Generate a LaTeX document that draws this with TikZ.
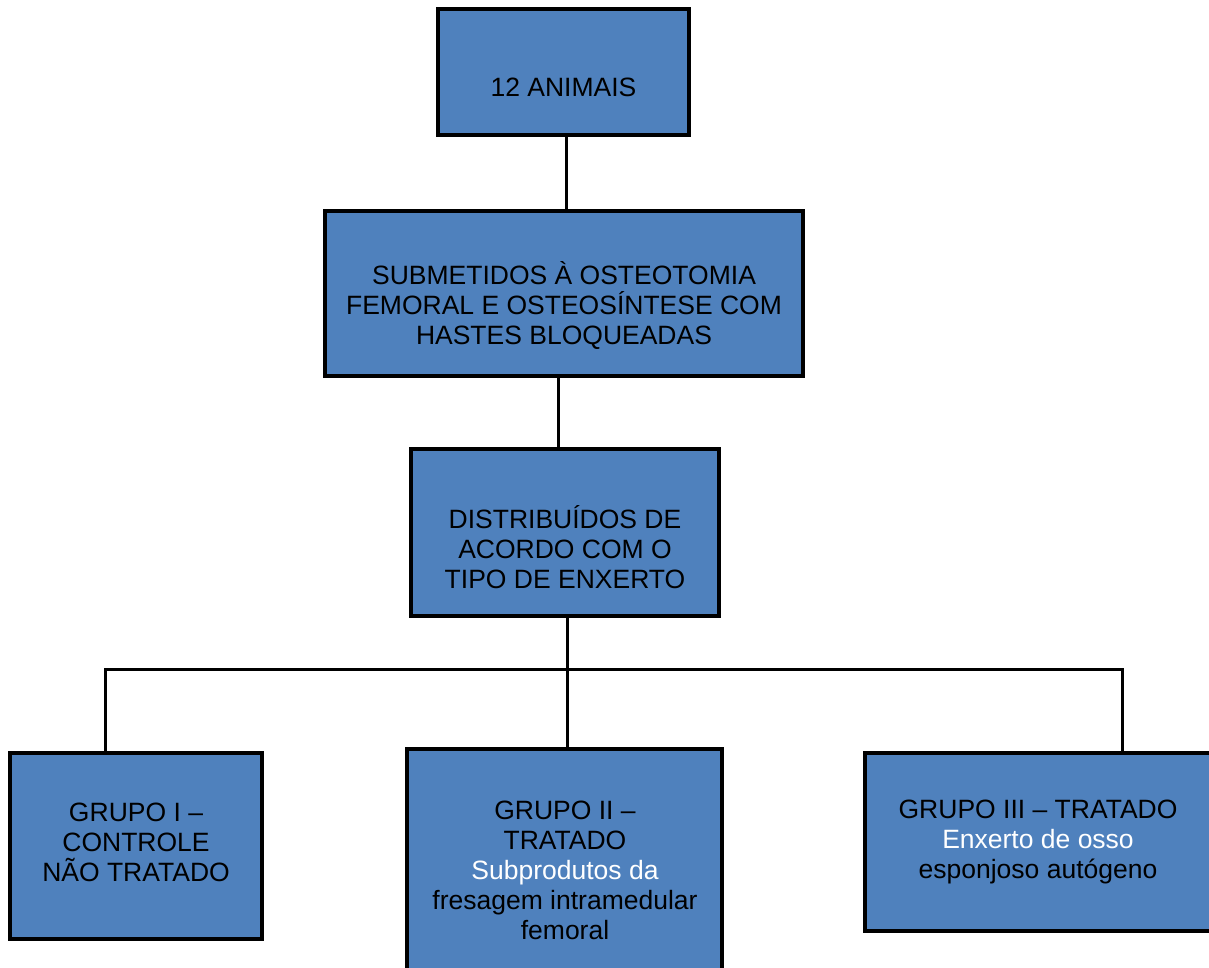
\documentclass[tikz,border=0pt]{standalone}
\usepackage{fontspec}
\setmainfont{Liberation Sans}
\definecolor{boxblue}{HTML}{4F81BD}
\tikzset{
    box/.style={draw, line width=3.5pt, fill=boxblue, inner sep=0pt},
    txt/.style={align=center, inner sep=0pt, font=\fontsize{26.5}{30}\selectfont},
    link/.style={line width=3pt},
}

\begin{document}
\begin{tikzpicture}[x=1pt, y=-1pt]
        \useasboundingbox (0,0) rectangle (1209,968);
        \node[box, minimum width=251, minimum height=126] (animais) at (563.5,72) {};
        \node[box, minimum width=478, minimum height=165] (submetidos) at (564,293.5) {};
        \node[box, minimum width=308, minimum height=167] (distribuidos) at (565,532.5) {};
        \node[box, minimum width=252, minimum height=186] (grupoi) at (136,846) {};
        \node[box, minimum width=315, minimum height=236] (grupoii) at (564.5,867) {};
        \node[box, minimum width=346, minimum height=178] (grupoiii) at (1038,842) {};

        \node[txt] (tanimais) at (563.5,87) {12 ANIMAIS};
        \node[txt] (tsubmetidos) at (564,306) {SUBMETIDOS À OSTEOTOMIA\\FEMORAL E OSTEOSÍNTESE COM\\HASTES BLOQUEADAS};
        \node[txt] (tdistribuidos) at (565,547) {DISTRIBUÍDOS DE\\ACORDO COM O\\TIPO DE ENXERTO};
        \node[txt] (tgrupoi) at (136,842) {GRUPO I --\\CONTROLE\\NÃO TRATADO};
        \node[txt] (tgrupoii) at (565,870) {GRUPO II --\\TRATADO\\\color{white}Subprodutos da\\fresagem intramedular\\femoral};
        \node[txt] (tgrupoiii) at (1038,842) {GRUPO III -- TRATADO\\\color{white}Enxerto de osso\\esponjoso autógeno};

        \coordinate (busl) at (105,669);
        \coordinate (busr) at (1122,669);

        \draw[link] ([xshift=2.5]animais.south) -- ([xshift=2.5]animais.south |- submetidos.north);
        \draw[link] ([xshift=-6]submetidos.south) -- ([xshift=-6]submetidos.south |- distribuidos.north);
        \draw[link] ([xshift=2]distribuidos.south) -- ([xshift=2]distribuidos.south |- grupoii.north);
        \draw[link] (grupoi.north -| busl) -- (busl) -- (busr) -- (grupoiii.north -| busr);

    \end{tikzpicture}
\end{document}
